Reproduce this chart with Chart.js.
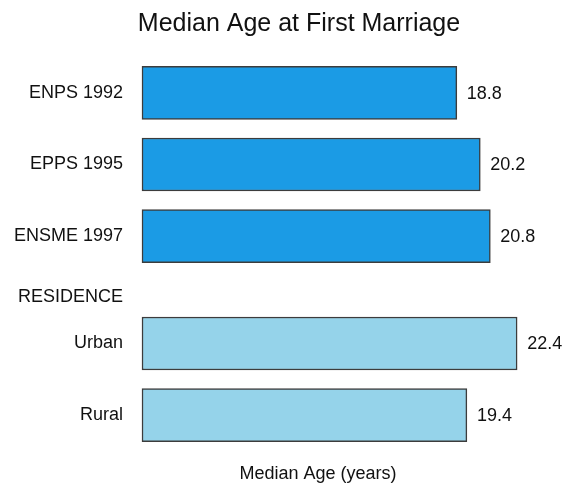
<!DOCTYPE html>
<html>
<head>
<meta charset="utf-8">
<script src="https://cdn.jsdelivr.net/npm/chart.js@4/dist/chart.umd.min.js"></script>
<style>
    html, body { margin: 0; padding: 0; background: #fff; }
    #wrap { width: 571px; height: 483px; position: relative; }
</style>
</head>
<body>
<div id="wrap"><canvas id="ageChart"></canvas></div>
<script>
// Rows, top to bottom. Empty strings are spacer rows so the groups sit apart like in the print.
const rowLabels = ['ENPS 1992', '', 'EPPS 1995', '', 'ENSME 1997', '', ['RESIDENCE', ''], 'Urban', '', 'Rural'];
const medianAge = [18.8, null, 20.2, null, 20.8, null, null, 22.4, null, 19.4];
const rowGroup  = ['survey', '', 'survey', '', 'survey', '', '', 'residence', '', 'residence'];

const chartTitle = 'Median Age at First Marriage';
const axisTitle = 'Median Age (years)';

const groupColors = { survey: '#1b9be5', residence: '#95d3ea' };
const FONT = '"Liberation Sans", Arial, sans-serif';

/* --- value labels and titles --- */
const textPlugin = {
    id: 'textPlugin',
    afterDatasetsDraw(chart) {
        const ctx = chart.ctx;
        const meta = chart.getDatasetMeta(0);
        ctx.save();
        ctx.font = '18px ' + FONT;
        ctx.fillStyle = '#111';
        ctx.textAlign = 'left';
        ctx.textBaseline = 'middle';
        meta.data.forEach((bar, i) => {
            if (medianAge[i] == null) return;
            ctx.fillText(medianAge[i].toFixed(1), bar.x + 10, bar.y + 1);
        });

        // chart title
        ctx.font = '25px ' + FONT;
        ctx.textAlign = 'center';
        ctx.textBaseline = 'alphabetic';
        ctx.fillText(chartTitle, 299, 31);

        // x axis title
        ctx.font = '18px ' + FONT;
        ctx.fillText(axisTitle, 318, 479);
        ctx.restore();
    }
};

new Chart(document.getElementById('ageChart'), {
    type: 'bar',
    data: {
        labels: rowLabels,
        datasets: [{
            data: medianAge,
            backgroundColor: rowGroup.map(g => groupColors[g] || 'transparent'),
            borderColor: '#3c3c3c',
            borderWidth: 1.5,
            borderSkipped: false,
            barThickness: 53,
            clip: false
        }]
    },
    options: {
        indexAxis: 'y',
        responsive: true,
        maintainAspectRatio: false,
        animation: false,
        layout: { padding: { top: 75, bottom: 50, left: 0, right: 12 } },
        plugins: {
            legend: { display: false },
            title: { display: false },
            tooltip: { enabled: false }
        },
        scales: {
            x: {
                display: false,
                min: 0,
                max: 24.9
            },
            y: {
                offset: true,
                grid: { display: false, drawTicks: false },
                border: { display: false },
                ticks: {
                    padding: 19,
                    color: '#111',
                    font: { family: FONT, size: 18 },
                    autoSkip: false
                },
                afterFit(scale) { scale.width = 142; }
            }
        }
    },
    plugins: [textPlugin]
});
</script>
</body>
</html>
